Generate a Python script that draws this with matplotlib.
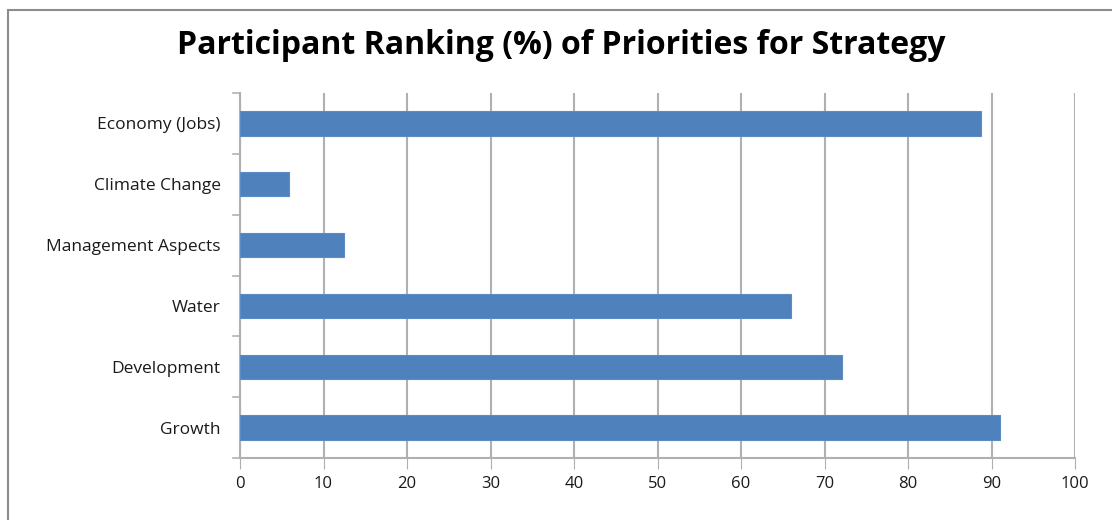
import matplotlib.pyplot as plt
from matplotlib.patches import Rectangle

categories = ["Growth", "Development", "Water", "Management Aspects", "Climate Change", "Economy (Jobs)"]
values = [91.0, 72.1, 66.0, 12.4, 5.9, 88.7]
x_ticks = [0, 10, 20, 30, 40, 50, 60, 70, 80, 90, 100]

plt.rcParams["font.family"] = ["Open Sans", "DejaVu Sans"]

fig = plt.figure(figsize=(11.12, 5.2), dpi=100)
fig.patches.append(Rectangle((8 / 1112, -0.1), 1.2, (520 - 10) / 520 + 0.1,
                             transform=fig.transFigure, fill=False,
                             edgecolor="#8C8C8C", linewidth=1.5))

ax = fig.add_axes([240 / 1112, (520 - 458) / 520, (1075 - 240) / 1112, (458 - 93) / 520])
ypos = list(range(len(categories)))
ax.barh(ypos, values, height=0.4, color="#4F81BD", edgecolor="#5B8CC6", linewidth=0.8, zorder=3)

ax.set_xlim(0, 100)
ax.set_ylim(-0.5, len(categories) - 0.5)
ax.set_xticks(x_ticks)
ax.set_xticklabels([str(t) for t in x_ticks], fontsize=12, color="#1A1A1A")
ax.set_yticks(ypos)
ax.set_yticklabels(categories, fontsize=12.5, color="#1A1A1A")
ax.tick_params(axis="y", length=0, pad=14)
ax.tick_params(axis="x", length=8, color="#B0B0B0", pad=5)

# category boundary ticks on the y axis
for b in range(len(categories) + 1):
    ax.plot([-0.8, 0], [b - 0.5, b - 0.5], color="#B0B0B0", linewidth=1.2,
            clip_on=False, zorder=4)

ax.grid(axis="x", color="#B0B0B0", linewidth=1.5, zorder=0)
for side in ["top", "right"]:
    ax.spines[side].set_visible(False)
ax.spines["left"].set_color("#B0B0B0")
ax.spines["bottom"].set_color("#B0B0B0")
ax.spines["left"].set_linewidth(1.5)
ax.spines["bottom"].set_linewidth(1.5)

fig.text(561 / 1112, 1 - 46 / 520, "Participant Ranking (%) of Priorities for Strategy",
         ha="center", va="center", fontsize=23, fontweight="bold", color="#000000")

fig.savefig("out.png", dpi=100)
